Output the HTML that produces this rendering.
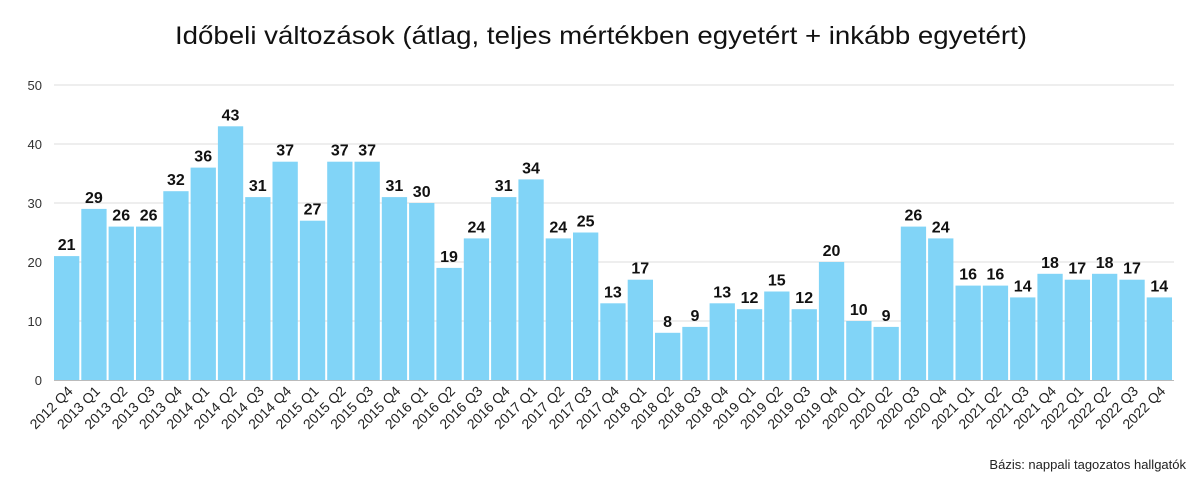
<!DOCTYPE html>
<html><head><meta charset="utf-8"><style>
html,body{margin:0;padding:0;background:#fff;}
svg{display:block;font-family:"Liberation Sans",sans-serif;}
.v{font-size:16px;font-weight:bold;text-anchor:middle;fill:#111;}
.t{font-size:14px;text-anchor:end;fill:#222;}
.y{font-size:13px;text-anchor:end;fill:#333;}
rect{fill:#81d4f7;}
</style></head><body>
<svg width="1200" height="487" viewBox="0 0 1200 487">
<text x="601" y="44" font-size="25" text-anchor="middle" fill="#111" textLength="852" lengthAdjust="spacingAndGlyphs">Időbeli változások (átlag, teljes mértékben egyetért + inkább egyetért)</text>
<g stroke="#dddddd" stroke-width="1">
<line x1="54" x2="1174" y1="85" y2="85"/><line x1="54" x2="1174" y1="144" y2="144"/><line x1="54" x2="1174" y1="203" y2="203"/><line x1="54" x2="1174" y1="262" y2="262"/><line x1="54" x2="1174" y1="321" y2="321"/>
</g>
<line x1="54" x2="1174" y1="380.5" y2="380.5" stroke="#bbb"/>
<g class="y">
<text x="42" y="90">50</text><text x="42" y="149">40</text><text x="42" y="208">30</text><text x="42" y="267">20</text><text x="42" y="326">10</text><text x="42" y="385">0</text>
</g>
<g>
<rect x="54.0" y="256.1" width="25.3" height="123.9"/>
<rect x="81.3" y="208.9" width="25.3" height="171.1"/>
<rect x="108.6" y="226.6" width="25.3" height="153.4"/>
<rect x="136.0" y="226.6" width="25.3" height="153.4"/>
<rect x="163.3" y="191.2" width="25.3" height="188.8"/>
<rect x="190.6" y="167.6" width="25.3" height="212.4"/>
<rect x="217.9" y="126.3" width="25.3" height="253.7"/>
<rect x="245.2" y="197.1" width="25.3" height="182.9"/>
<rect x="272.5" y="161.7" width="25.3" height="218.3"/>
<rect x="299.9" y="220.7" width="25.3" height="159.3"/>
<rect x="327.2" y="161.7" width="25.3" height="218.3"/>
<rect x="354.5" y="161.7" width="25.3" height="218.3"/>
<rect x="381.8" y="197.1" width="25.3" height="182.9"/>
<rect x="409.1" y="203.0" width="25.3" height="177.0"/>
<rect x="436.4" y="267.9" width="25.3" height="112.1"/>
<rect x="463.8" y="238.4" width="25.3" height="141.6"/>
<rect x="491.1" y="197.1" width="25.3" height="182.9"/>
<rect x="518.4" y="179.4" width="25.3" height="200.6"/>
<rect x="545.7" y="238.4" width="25.3" height="141.6"/>
<rect x="573.0" y="232.5" width="25.3" height="147.5"/>
<rect x="600.3" y="303.3" width="25.3" height="76.7"/>
<rect x="627.7" y="279.7" width="25.3" height="100.3"/>
<rect x="655.0" y="332.8" width="25.3" height="47.2"/>
<rect x="682.3" y="326.9" width="25.3" height="53.1"/>
<rect x="709.6" y="303.3" width="25.3" height="76.7"/>
<rect x="736.9" y="309.2" width="25.3" height="70.8"/>
<rect x="764.2" y="291.5" width="25.3" height="88.5"/>
<rect x="791.6" y="309.2" width="25.3" height="70.8"/>
<rect x="818.9" y="262.0" width="25.3" height="118.0"/>
<rect x="846.2" y="321.0" width="25.3" height="59.0"/>
<rect x="873.5" y="326.9" width="25.3" height="53.1"/>
<rect x="900.8" y="226.6" width="25.3" height="153.4"/>
<rect x="928.1" y="238.4" width="25.3" height="141.6"/>
<rect x="955.5" y="285.6" width="25.3" height="94.4"/>
<rect x="982.8" y="285.6" width="25.3" height="94.4"/>
<rect x="1010.1" y="297.4" width="25.3" height="82.6"/>
<rect x="1037.4" y="273.8" width="25.3" height="106.2"/>
<rect x="1064.7" y="279.7" width="25.3" height="100.3"/>
<rect x="1092.0" y="273.8" width="25.3" height="106.2"/>
<rect x="1119.4" y="279.7" width="25.3" height="100.3"/>
<rect x="1146.7" y="297.4" width="25.3" height="82.6"/>
</g>
<g class="v">
<text x="66.6" y="250.1">21</text>
<text x="93.9" y="202.9">29</text>
<text x="121.2" y="220.6">26</text>
<text x="148.6" y="220.6">26</text>
<text x="175.9" y="185.2">32</text>
<text x="203.2" y="161.6">36</text>
<text x="230.5" y="120.3">43</text>
<text x="257.8" y="191.1">31</text>
<text x="285.1" y="155.7">37</text>
<text x="312.5" y="214.7">27</text>
<text x="339.8" y="155.7">37</text>
<text x="367.1" y="155.7">37</text>
<text x="394.4" y="191.1">31</text>
<text x="421.7" y="197.0">30</text>
<text x="449.0" y="261.9">19</text>
<text x="476.4" y="232.4">24</text>
<text x="503.7" y="191.1">31</text>
<text x="531.0" y="173.4">34</text>
<text x="558.3" y="232.4">24</text>
<text x="585.6" y="226.5">25</text>
<text x="612.9" y="297.3">13</text>
<text x="640.3" y="273.7">17</text>
<text x="667.6" y="326.8">8</text>
<text x="694.9" y="320.9">9</text>
<text x="722.2" y="297.3">13</text>
<text x="749.5" y="303.2">12</text>
<text x="776.8" y="285.5">15</text>
<text x="804.2" y="303.2">12</text>
<text x="831.5" y="256.0">20</text>
<text x="858.8" y="315.0">10</text>
<text x="886.1" y="320.9">9</text>
<text x="913.4" y="220.6">26</text>
<text x="940.7" y="232.4">24</text>
<text x="968.1" y="279.6">16</text>
<text x="995.4" y="279.6">16</text>
<text x="1022.7" y="291.4">14</text>
<text x="1050.0" y="267.8">18</text>
<text x="1077.3" y="273.7">17</text>
<text x="1104.6" y="267.8">18</text>
<text x="1132.0" y="273.7">17</text>
<text x="1159.3" y="291.4">14</text>
</g>
<g class="t">
<text transform="translate(73.6,392) rotate(-45)">2012 Q4</text>
<text transform="translate(100.9,392) rotate(-45)">2013 Q1</text>
<text transform="translate(128.2,392) rotate(-45)">2013 Q2</text>
<text transform="translate(155.6,392) rotate(-45)">2013 Q3</text>
<text transform="translate(182.9,392) rotate(-45)">2013 Q4</text>
<text transform="translate(210.2,392) rotate(-45)">2014 Q1</text>
<text transform="translate(237.5,392) rotate(-45)">2014 Q2</text>
<text transform="translate(264.8,392) rotate(-45)">2014 Q3</text>
<text transform="translate(292.1,392) rotate(-45)">2014 Q4</text>
<text transform="translate(319.5,392) rotate(-45)">2015 Q1</text>
<text transform="translate(346.8,392) rotate(-45)">2015 Q2</text>
<text transform="translate(374.1,392) rotate(-45)">2015 Q3</text>
<text transform="translate(401.4,392) rotate(-45)">2015 Q4</text>
<text transform="translate(428.7,392) rotate(-45)">2016 Q1</text>
<text transform="translate(456.0,392) rotate(-45)">2016 Q2</text>
<text transform="translate(483.4,392) rotate(-45)">2016 Q3</text>
<text transform="translate(510.7,392) rotate(-45)">2016 Q4</text>
<text transform="translate(538.0,392) rotate(-45)">2017 Q1</text>
<text transform="translate(565.3,392) rotate(-45)">2017 Q2</text>
<text transform="translate(592.6,392) rotate(-45)">2017 Q3</text>
<text transform="translate(619.9,392) rotate(-45)">2017 Q4</text>
<text transform="translate(647.3,392) rotate(-45)">2018 Q1</text>
<text transform="translate(674.6,392) rotate(-45)">2018 Q2</text>
<text transform="translate(701.9,392) rotate(-45)">2018 Q3</text>
<text transform="translate(729.2,392) rotate(-45)">2018 Q4</text>
<text transform="translate(756.5,392) rotate(-45)">2019 Q1</text>
<text transform="translate(783.8,392) rotate(-45)">2019 Q2</text>
<text transform="translate(811.2,392) rotate(-45)">2019 Q3</text>
<text transform="translate(838.5,392) rotate(-45)">2019 Q4</text>
<text transform="translate(865.8,392) rotate(-45)">2020 Q1</text>
<text transform="translate(893.1,392) rotate(-45)">2020 Q2</text>
<text transform="translate(920.4,392) rotate(-45)">2020 Q3</text>
<text transform="translate(947.7,392) rotate(-45)">2020 Q4</text>
<text transform="translate(975.1,392) rotate(-45)">2021 Q1</text>
<text transform="translate(1002.4,392) rotate(-45)">2021 Q2</text>
<text transform="translate(1029.7,392) rotate(-45)">2021 Q3</text>
<text transform="translate(1057.0,392) rotate(-45)">2021 Q4</text>
<text transform="translate(1084.3,392) rotate(-45)">2022 Q1</text>
<text transform="translate(1111.6,392) rotate(-45)">2022 Q2</text>
<text transform="translate(1139.0,392) rotate(-45)">2022 Q3</text>
<text transform="translate(1166.3,392) rotate(-45)">2022 Q4</text>
</g>
<text x="1186" y="469" font-size="13" text-anchor="end" fill="#222">Bázis: nappali tagozatos hallgatók</text>
</svg>
</body></html>
